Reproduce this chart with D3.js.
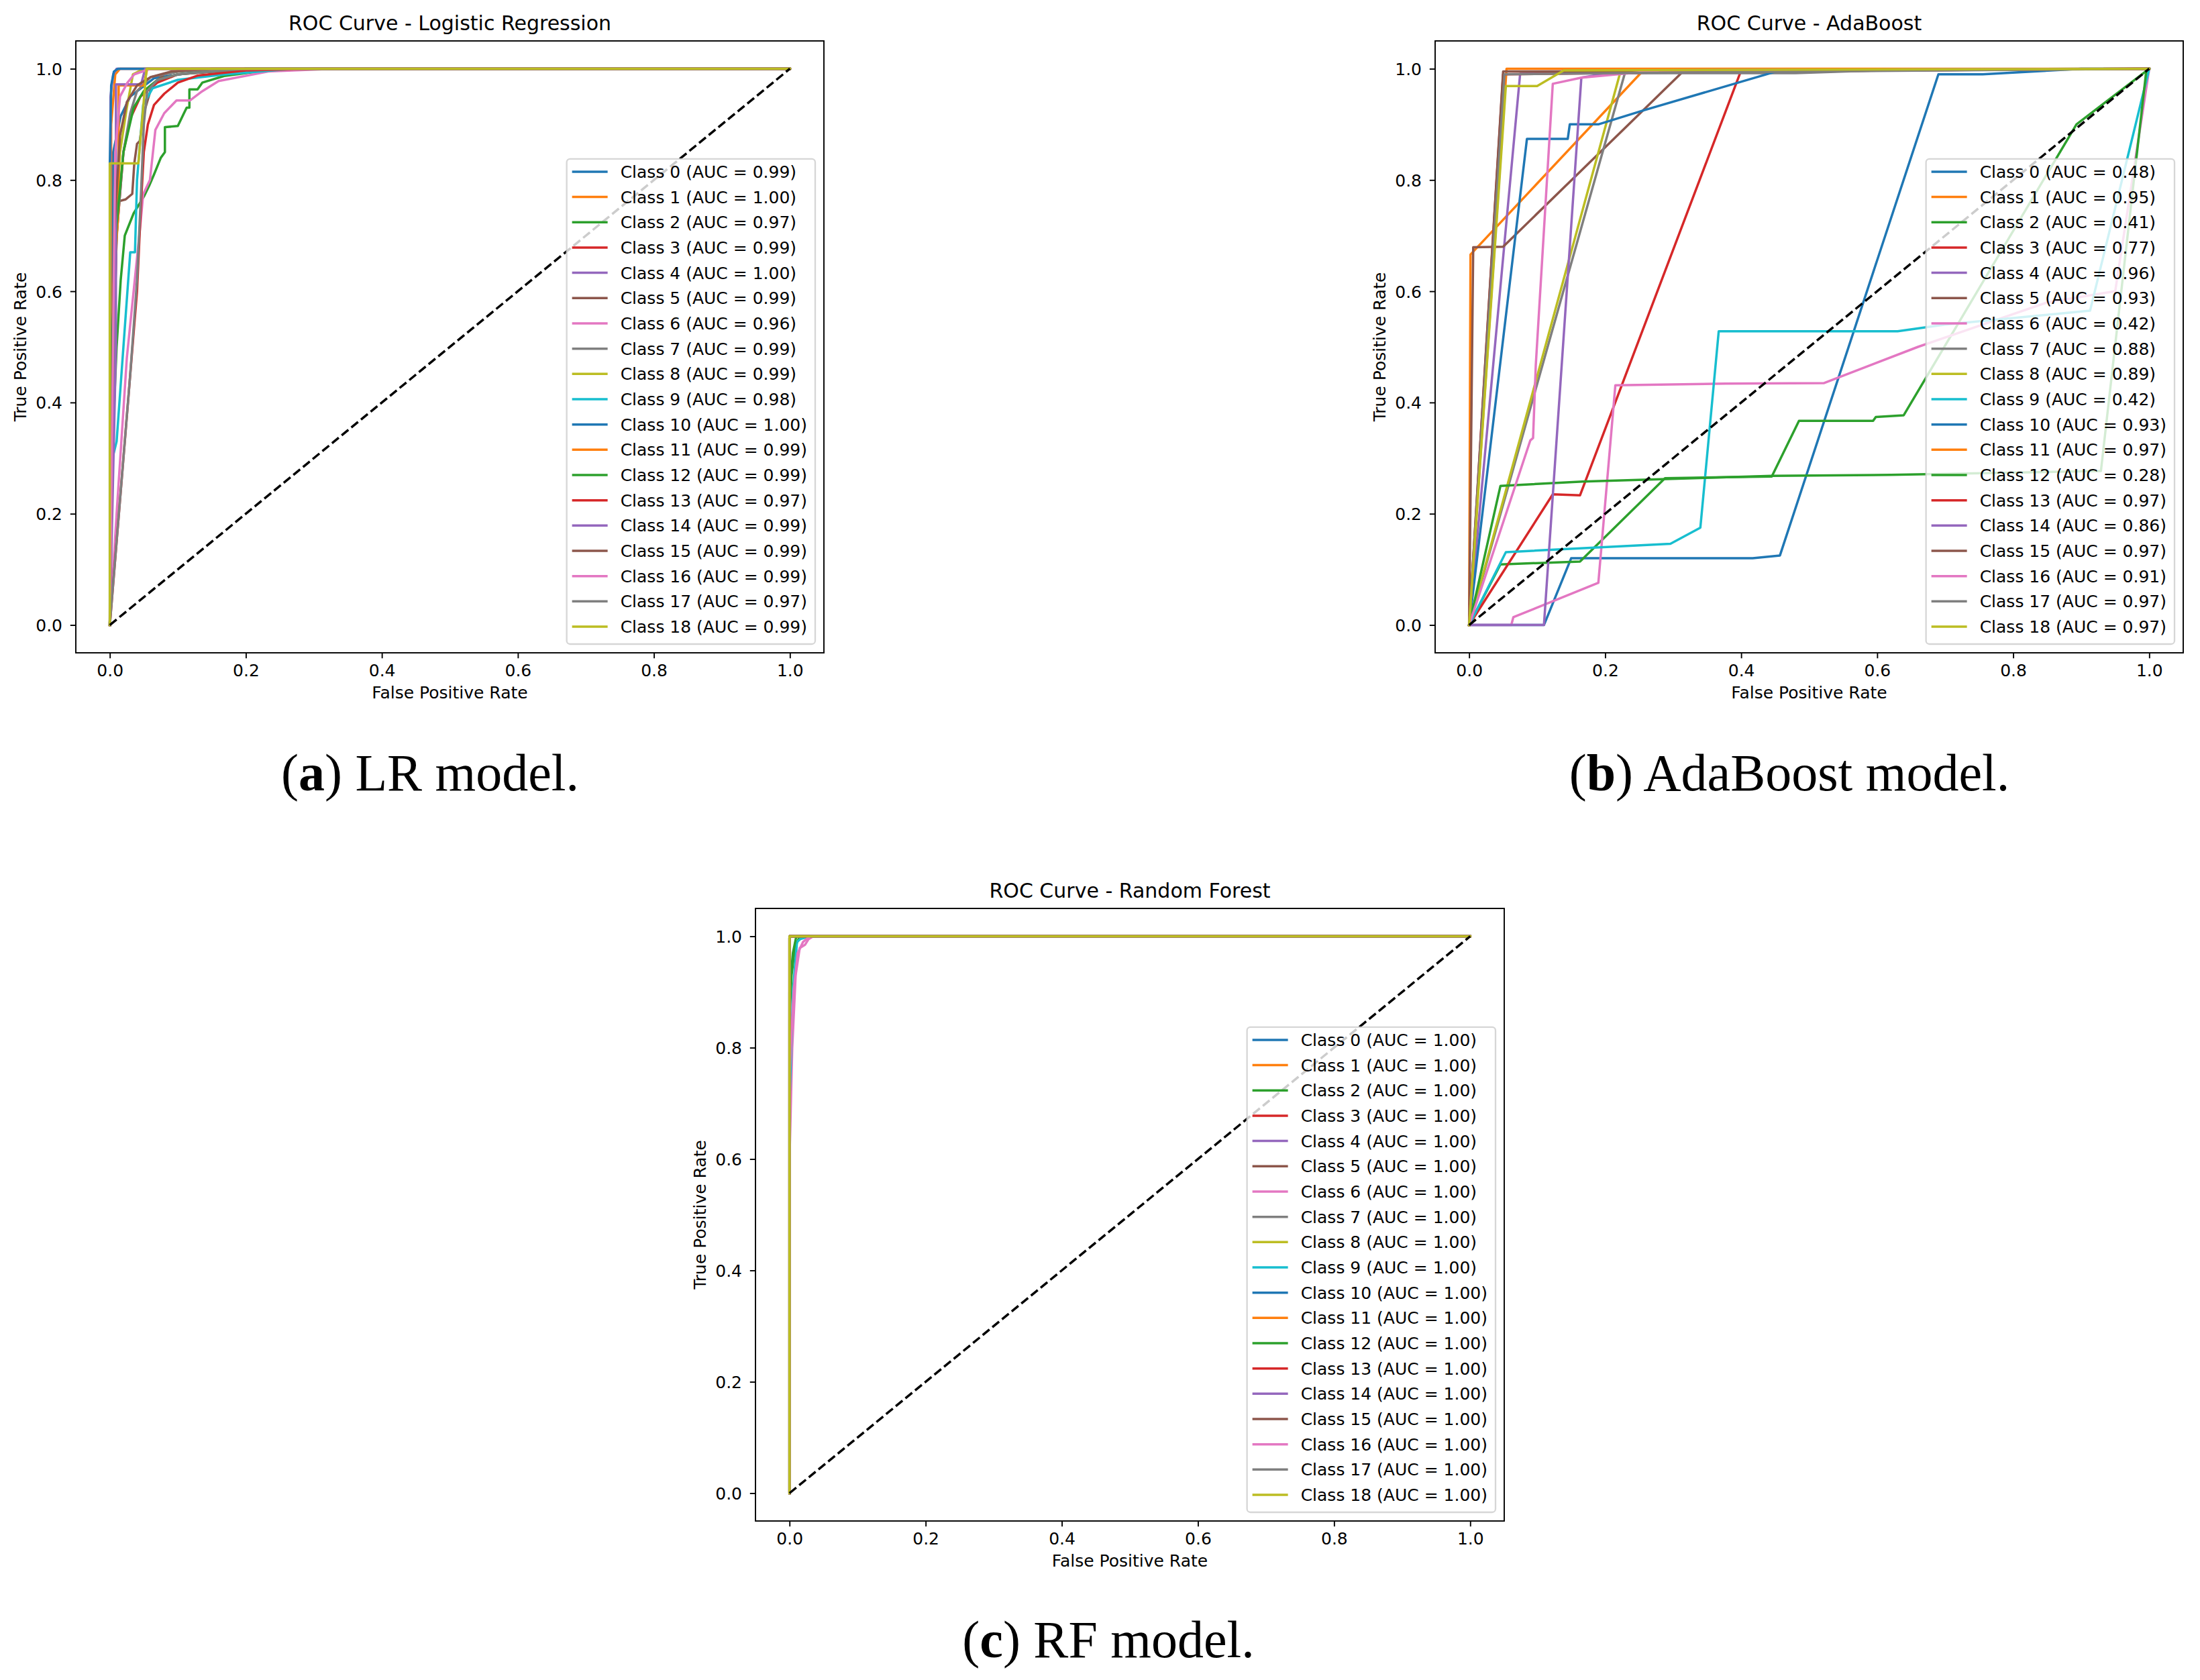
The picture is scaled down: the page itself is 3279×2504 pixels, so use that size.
<!DOCTYPE html>
<html><head><meta charset="utf-8">
<script src="https://cdn.jsdelivr.net/npm/d3@7"></script>
<style>body{margin:0;background:#fff;} svg{display:block;}</style>
</head><body>
<svg id="chart" width="3279" height="2504"></svg>
<script>
// ---------------- data ----------------
const classIds = d3.range(19);
const tickValues = [0, 0.2, 0.4, 0.6, 0.8, 1.0];
const palette = ["#1f77b4","#ff7f0e","#2ca02c","#d62728","#9467bd","#8c564b","#e377c2","#7f7f7f","#bcbd22","#17becf"];

const lrAUC  = [0.99,1.00,0.97,0.99,1.00,0.99,0.96,0.99,0.99,0.98,1.00,0.99,0.99,0.97,0.99,0.99,0.99,0.97,0.99];
const adaAUC = [0.48,0.95,0.41,0.77,0.96,0.93,0.42,0.88,0.89,0.42,0.93,0.97,0.28,0.97,0.86,0.97,0.91,0.97,0.97];
const rfAUC  = [1.00,1.00,1.00,1.00,1.00,1.00,1.00,1.00,1.00,1.00,1.00,1.00,1.00,1.00,1.00,1.00,1.00,1.00,1.00];

const lrCurves = [
  [[0,0],[0.002,0.5],[0.005,0.85],[0.016,0.915],[0.03,0.95],[0.065,0.983],[0.12,0.993],[0.25,1],[1,1]],
  [[0,0],[0.002,0.9],[0.008,0.99],[0.015,1],[1,1]],
  [[0,0],[0.003,0.3],[0.01,0.5],[0.016,0.62],[0.022,0.7],[0.035,0.74],[0.05,0.77],[0.058,0.79],[0.065,0.81],[0.075,0.84],[0.081,0.85],[0.081,0.895],[0.1,0.897],[0.109,0.92],[0.113,0.93],[0.117,0.93],[0.117,0.963],[0.129,0.963],[0.136,0.975],[0.168,0.987],[0.23,0.997],[0.3,1],[1,1]],
  [[0,0],[0.004,0.4],[0.01,0.7],[0.02,0.85],[0.03,0.91],[0.045,0.95],[0.07,0.975],[0.1,0.99],[0.2,1],[1,1]],
  [[0,0],[0.001,0.95],[0.005,0.99],[0.01,1],[1,1]],
  [[0,0],[0.004,0.5],[0.008,0.76],[0.023,0.765],[0.033,0.775],[0.036,0.83],[0.04,0.865],[0.044,0.87],[0.05,0.92],[0.062,0.97],[0.08,0.99],[0.12,1],[1,1]],
  [[0,0],[0.01,0.2],[0.025,0.48],[0.035,0.6],[0.045,0.72],[0.049,0.774],[0.059,0.8],[0.067,0.89],[0.08,0.92],[0.098,0.943],[0.118,0.943],[0.134,0.958],[0.16,0.978],[0.233,0.995],[0.33,1],[1,1]],
  [[0,0],[0.004,0.4],[0.01,0.7],[0.02,0.85],[0.03,0.92],[0.04,0.96],[0.06,0.985],[0.1,0.995],[0.2,1],[1,1]],
  [[0,0],[0.005,0.6],[0.015,0.85],[0.025,0.93],[0.034,0.99],[0.05,1],[1,1]],
  [[0,0],[0.004,0.3],[0.01,0.33],[0.02,0.5],[0.03,0.67],[0.037,0.67],[0.04,0.8],[0.049,0.935],[0.063,0.965],[0.1,0.98],[0.17,0.99],[0.27,1],[1,1]],
  [[0,0],[0,0.83],[0.002,0.97],[0.006,0.995],[0.012,1],[1,1]],
  [[0,0],[0.005,0.6],[0.013,0.75],[0.013,0.97],[0.05,0.97],[0.055,1],[1,1]],
  [[0,0],[0.003,0.5],[0.01,0.72],[0.02,0.85],[0.035,0.93],[0.05,0.96],[0.07,0.98],[0.1,0.99],[0.2,1],[1,1]],
  [[0,0],[0.01,0.15],[0.02,0.3],[0.03,0.45],[0.04,0.6],[0.046,0.76],[0.05,0.85],[0.056,0.9],[0.065,0.935],[0.08,0.955],[0.1,0.975],[0.13,0.988],[0.2,0.997],[0.3,1],[1,1]],
  [[0,0],[0.009,0.5],[0.009,0.972],[0.046,0.972],[0.052,1],[1,1]],
  [[0,0],[0.006,0.7],[0.015,0.88],[0.025,0.94],[0.04,0.97],[0.06,0.985],[0.09,0.995],[0.15,1],[1,1]],
  [[0,0],[0.008,0.85],[0.015,0.95],[0.026,0.975],[0.036,0.99],[0.06,1],[1,1]],
  [[0,0],[0.01,0.15],[0.02,0.3],[0.03,0.45],[0.04,0.62],[0.046,0.78],[0.05,0.9],[0.055,0.96],[0.07,0.98],[0.1,0.99],[0.2,1],[1,1]],
  [[0,0],[0,0.83],[0.042,0.83],[0.054,1],[1,1]]
];

const adaCurves = [
  [[0,0],[0.11,0],[0.15,0.12],[0.417,0.12],[0.457,0.125],[0.69,0.99],[0.755,0.99],[0.9,1],[1,1]],
  [[0,0],[0.002,0.666],[0.256,0.997],[1,1]],
  [[0,0],[0.046,0.109],[0.163,0.114],[0.288,0.264],[0.445,0.267],[0.485,0.367],[0.594,0.367],[0.598,0.374],[0.639,0.377],[0.893,0.9],[1,1]],
  [[0,0],[0.123,0.235],[0.163,0.233],[0.40,0.997],[1,1]],
  [[0,0],[0.075,0.991],[0.3,0.997],[1,1]],
  [[0,0],[0.006,0.679],[0.05,0.68],[0.316,0.997],[1,1]],
  [[0,0],[0.062,0],[0.065,0.014],[0.19,0.076],[0.215,0.431],[0.377,0.434],[0.522,0.435],[0.66,0.5],[0.85,0.58],[0.95,0.6],[1,1]],
  [[0,0],[0.229,0.992],[0.48,0.992],[0.6,0.997],[1,1]],
  [[0,0],[0.223,0.997],[1,1]],
  [[0,0],[0.054,0.131],[0.296,0.146],[0.34,0.175],[0.367,0.528],[0.63,0.528],[0.7,0.54],[0.913,0.565],[1,1]],
  [[0,0],[0.085,0.874],[0.145,0.874],[0.148,0.90],[0.19,0.90],[0.256,0.925],[0.457,0.997],[0.9,1],[1,1]],
  [[0,0],[0.055,1],[1,1]],
  [[0,0],[0.046,0.25],[0.167,0.258],[0.445,0.268],[0.62,0.27],[0.929,0.277],[0.996,1],[1,1]],
  [[0,0],[0.05,0.99],[0.4,0.995],[1,1]],
  [[0,0],[0.11,0],[0.165,0.984],[0.23,0.997],[1,1]],
  [[0,0],[0.05,0.995],[0.58,0.997],[1,1]],
  [[0,0],[0.09,0.332],[0.094,0.336],[0.098,0.467],[0.123,0.973],[0.165,0.984],[0.28,0.997],[1,1]],
  [[0,0],[0.052,0.99],[0.3,0.993],[1,1]],
  [[0,0],[0.054,0.969],[0.1,0.969],[0.139,0.997],[1,1]]
];

const rfCurves = [
  [[0,0],[0,1],[1,1]],
  [[0,0],[0,1],[1,1]],
  [[0,0],[0,0.85],[0.003,0.93],[0.008,0.98],[0.015,1],[1,1]],
  [[0,0],[0,1],[1,1]],
  [[0,0],[0,1],[1,1]],
  [[0,0],[0,1],[1,1]],
  [[0,0],[0,0.6],[0.004,0.8],[0.009,0.93],[0.015,0.979],[0.023,0.985],[0.028,0.995],[0.035,1],[1,1]],
  [[0,0],[0,1],[1,1]],
  [[0,0],[0,1],[1,1]],
  [[0,0],[0,0.7],[0.005,0.9],[0.011,0.99],[0.016,0.995],[0.03,1],[1,1]],
  [[0,0],[0,1],[1,1]],
  [[0,0],[0,1],[1,1]],
  [[0,0],[0,0.9],[0.005,0.97],[0.01,1],[1,1]],
  [[0,0],[0,1],[1,1]],
  [[0,0],[0,1],[1,1]],
  [[0,0],[0,1],[1,1]],
  [[0,0],[0,0.75],[0.006,0.9],[0.012,0.97],[0.02,0.99],[0.03,1],[1,1]],
  [[0,0],[0,1],[1,1]],
  [[0,0],[0,1],[1,1]]
];
const diagonal = [[0,0],[1,1]];

// ---------------- drawing ----------------
const svg = d3.select("#chart");
const FONT = "DejaVu Sans, Liberation Sans, sans-serif";
const TICKF = 25, TITLEF = 30;

const panels = [
  {left:113,  top:61,   w:1115, h:912, title:"ROC Curve - Logistic Regression", curves:lrCurves,  auc:lrAUC},
  {left:2139, top:61,   w:1115, h:912, title:"ROC Curve - AdaBoost",            curves:adaCurves, auc:adaAUC},
  {left:1126, top:1354, w:1116, h:913, title:"ROC Curve - Random Forest",       curves:rfCurves,  auc:rfAUC}
];

panels.forEach((p, pi) => {
  const x = d3.scaleLinear().domain([-0.05, 1.05]).range([p.left, p.left + p.w]);
  const y = d3.scaleLinear().domain([-0.05, 1.05]).range([p.top + p.h, p.top]);
  const g = svg.append("g");
  const clipId = "clip" + pi;
  g.append("clipPath").attr("id", clipId).append("rect")
    .attr("x", p.left).attr("y", p.top).attr("width", p.w).attr("height", p.h);

  const line = d3.line().x(d => x(d[0])).y(d => y(d[1]));
  const plot = g.append("g").attr("clip-path", `url(#${clipId})`);
  p.curves.forEach((c, i) => {
    plot.append("path").attr("d", line(c))
      .attr("fill", "none").attr("stroke", palette[i % 10])
      .attr("stroke-width", 3.5).attr("stroke-linejoin", "round").attr("stroke-linecap", "square");
  });
  plot.append("path").attr("d", line(diagonal))
    .attr("fill", "none").attr("stroke", "#000").attr("stroke-width", 3.5)
    .attr("stroke-dasharray", "13,5.6");

  // axes
  const xAxis = d3.axisBottom(x).tickValues(tickValues).tickFormat(d3.format(".1f")).tickSize(8.2).tickPadding(8);
  const yAxis = d3.axisLeft(y).tickValues(tickValues).tickFormat(d3.format(".1f")).tickSize(8.2).tickPadding(9);
  const gx = g.append("g").attr("transform", `translate(0,${p.top + p.h})`).call(xAxis);
  const gy = g.append("g").attr("transform", `translate(${p.left},0)`).call(yAxis);
  [gx, gy].forEach(a => {
    a.select(".domain").remove();
    a.selectAll(".tick line").attr("stroke", "#000").attr("stroke-width", 1.9);
    a.selectAll(".tick text").attr("fill", "#000").style("font-family", FONT).style("font-size", TICKF + "px");
  });
  gx.selectAll(".tick text").attr("dy", "0").attr("y", 35);
  gy.selectAll(".tick text").attr("dy", "0.36em").attr("x", -20);

  g.append("rect").attr("x", p.left).attr("y", p.top).attr("width", p.w).attr("height", p.h)
    .attr("fill", "none").attr("stroke", "#000").attr("stroke-width", 1.9);

  // title and labels
  g.append("text").attr("x", p.left + p.w / 2).attr("y", p.top - 16)
    .attr("text-anchor", "middle").style("font-family", FONT).style("font-size", TITLEF + "px").text(p.title);
  g.append("text").attr("x", p.left + p.w / 2).attr("y", p.top + p.h + 68)
    .attr("text-anchor", "middle").style("font-family", FONT).style("font-size", TICKF + "px").text("False Positive Rate");
  g.append("text").attr("transform", `translate(${p.left - 74},${p.top + p.h / 2}) rotate(-90)`)
    .attr("text-anchor", "middle").style("font-family", FONT).style("font-size", TICKF + "px").text("True Positive Rate");

  // legend
  const pitch = 37.67, padTop = 19, padBot = 26;
  const H = padTop + pitch * (classIds.length - 1) + padBot;
  const right = p.left + p.w - 13, bottom = p.top + p.h - 13;
  const top = bottom - H;
  const lg = g.append("g");
  const box = lg.append("rect");
  const labels = classIds.map(i => `Class ${i} (AUC = ${p.auc[i].toFixed(2)})`);
  const texts = lg.selectAll("text.leg").data(labels).enter().append("text").attr("class", "leg")
    .style("font-family", FONT).style("font-size", TICKF + "px").attr("fill", "#000").text(d => d);
  let maxW = 0;
  texts.each(function(){ maxW = Math.max(maxW, this.getComputedTextLength()); });
  const W = 8 + 53 + 19 + maxW + 12;
  const left = right - W;
  box.attr("x", left).attr("y", top).attr("width", W).attr("height", H).attr("rx", 5).attr("ry", 5)
    .attr("fill", "#fff").attr("fill-opacity", 0.8).attr("stroke", "#cccccc").attr("stroke-opacity", 0.8).attr("stroke-width", 2.3);
  texts.attr("x", left + 80).attr("y", (d, i) => top + padTop + i * pitch).attr("dy", "0.36em");
  lg.selectAll("line.h").data(classIds).enter().append("line").attr("class", "h")
    .attr("x1", left + 8).attr("x2", left + 61)
    .attr("y1", (d, i) => top + padTop + i * pitch).attr("y2", (d, i) => top + padTop + i * pitch)
    .attr("stroke", d => palette[d % 10]).attr("stroke-width", 3.5);
});

// captions
const captions = [
  {letter:"a", rest:" LR model.", cx:641, y:1178},
  {letter:"b", rest:" AdaBoost model.", cx:2667, y:1178},
  {letter:"c", rest:" RF model.", cx:1652, y:2470}
];
captions.forEach(c => {
  const t = svg.append("text").attr("x", c.cx).attr("y", c.y).attr("text-anchor", "middle")
    .style("font-family", "Liberation Serif, DejaVu Serif, serif").style("font-size", "78px").attr("fill", "#000");
  t.append("tspan").text("(");
  t.append("tspan").attr("font-weight", "bold").text(c.letter);
  t.append("tspan").text(")" + c.rest);
});
</script>
</body></html>
